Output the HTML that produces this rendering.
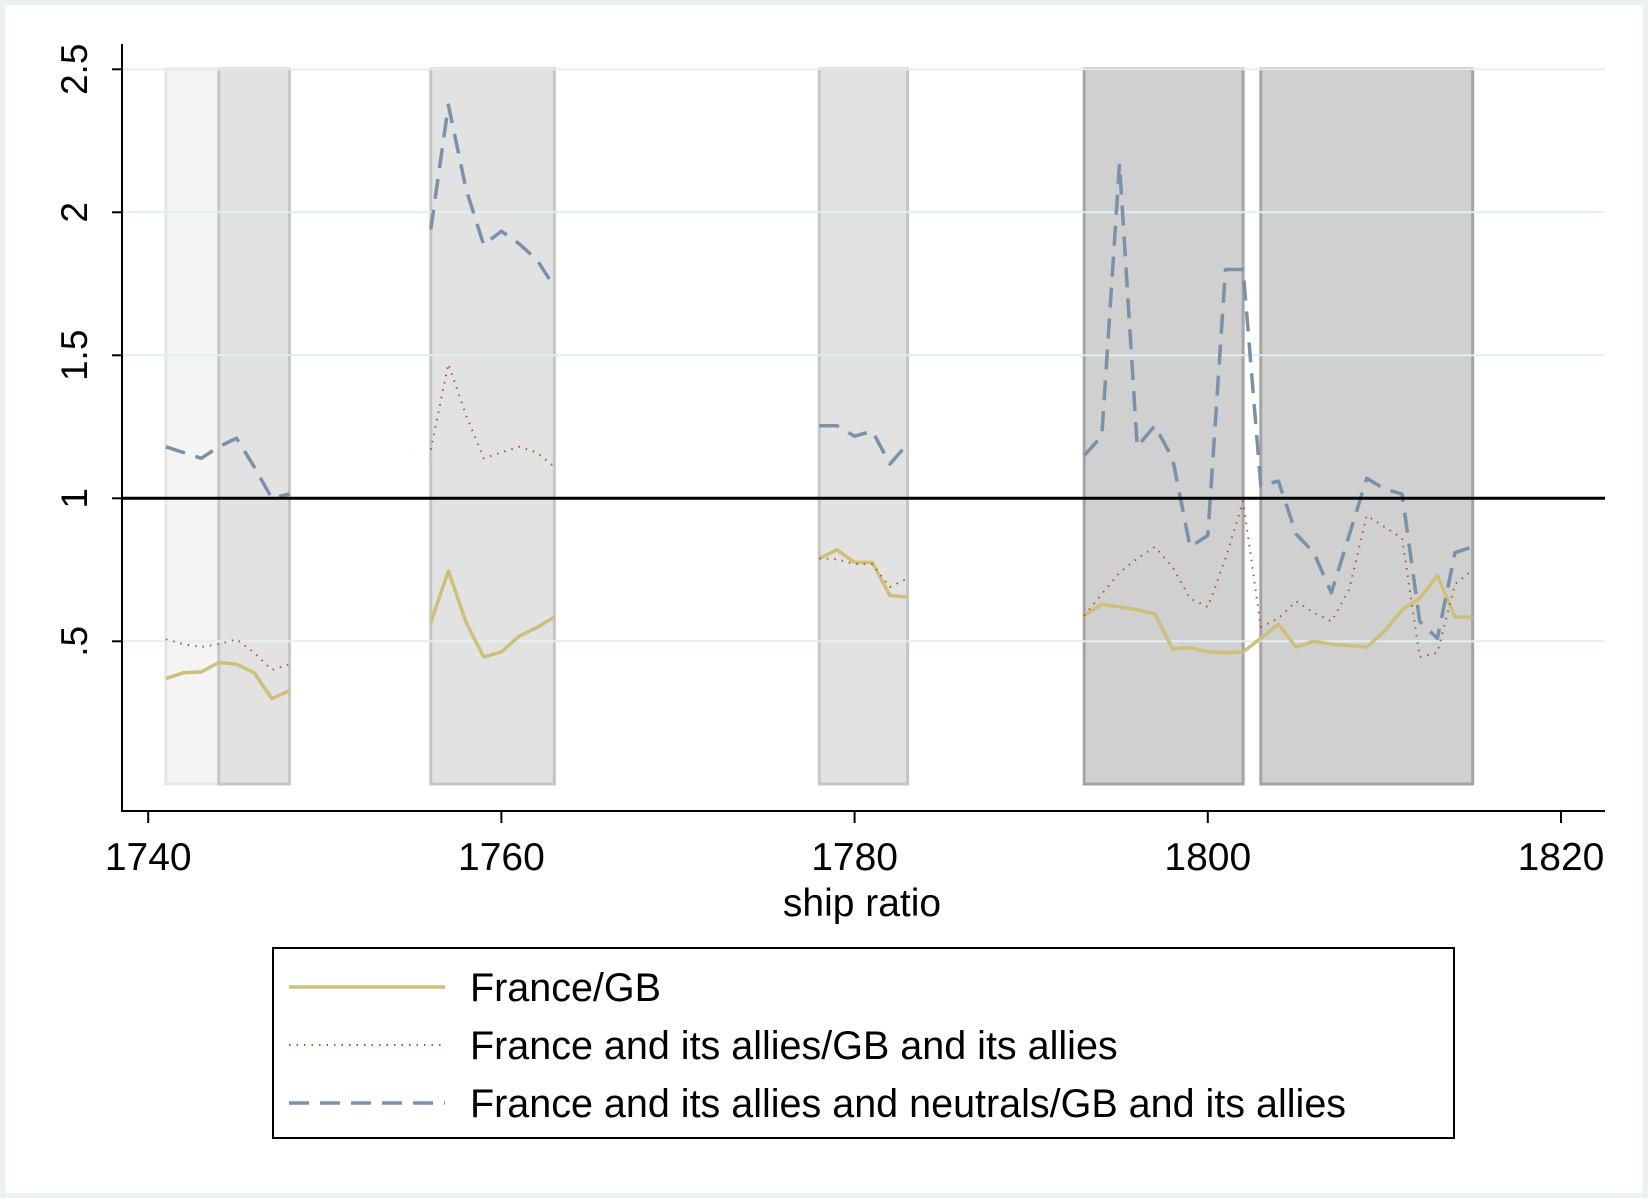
<!DOCTYPE html>
<html><head><meta charset="utf-8"><style>
html,body{margin:0;padding:0;background:#fff}
svg{display:block;font-family:"Liberation Sans",Arial,sans-serif}
</style></head><body>
<svg id="chart" width="1648" height="1198" viewBox="0 0 1648 1198">
<rect x="0" y="0" width="1648" height="1198" fill="#eaf2f3"/>
<rect x="5" y="5" width="1638" height="1188" fill="#ffffff"/>
<g id="bands"></g><g id="grid"></g><g id="series"></g><g id="axes"></g>
<g>
<rect x="273" y="948" width="1181" height="190" fill="#fff" stroke="#000" stroke-width="2"/>
<line x1="289" y1="987" x2="445" y2="987" stroke="#cdc079" stroke-width="3.5"/>
<text x="470" y="1001" font-size="39.5">France/GB</text>
<line x1="289" y1="1045" x2="445" y2="1045" stroke="#b5552e" stroke-width="2" stroke-dasharray="1.5 6"/>
<text x="470" y="1059" font-size="39.5">France and its allies/GB and its allies</text>
<line x1="289" y1="1103" x2="445" y2="1103" stroke="#7a91aa" stroke-width="3.5" stroke-dasharray="20 11"/>
<text x="470" y="1117" font-size="39.5">France and its allies and neutrals/GB and its allies</text>
</g>
</svg>
<script>
const bandStarts=[1741,1744,1756,1778,1793,1803];
const bandEnds=[1744,1748,1763,1783,1802,1815];
const bandFill=['#f4f4f4','#e2e2e2','#e2e2e2','#e2e2e2','#d0d0d0','#d0d0d0'];
const bandStroke=['#e6e6e6','#c6c6c6','#c6c6c6','#c6c6c6','#a4a4a4','#a4a4a4'];
const yTicks=[0.5,1,1.5,2,2.5];
const yTickLabels=['.5','1','1.5','2','2.5'];
const xTicks=[1740,1760,1780,1800,1820];
const segYears=[
[1741,1742,1743,1744,1745,1746,1747,1748],
[1756,1757,1758,1759,1760,1761,1762,1763],
[1778,1779,1780,1781,1782,1783],
[1793,1794,1795,1796,1797,1798,1799,1800,1801,1802,1803,1804,1805,1806,1807,1808,1809,1810,1811,1812,1813,1814,1815]];
const franceGB=[
[0.37,0.39,0.393,0.426,0.42,0.39,0.30,0.327],
[0.566,0.746,0.566,0.445,0.463,0.518,0.548,0.585],
[0.79,0.82,0.776,0.776,0.66,0.654],
[0.59,0.63,0.62,0.61,0.596,0.474,0.478,0.463,0.46,0.463,0.51,0.56,0.48,0.5,0.49,0.485,0.48,0.535,0.61,0.65,0.73,0.585,0.585]];
const allies=[
[0.507,0.49,0.48,0.49,0.507,0.46,0.40,0.42],
[1.17,1.47,1.29,1.14,1.16,1.18,1.16,1.11],
[0.79,0.787,0.77,0.77,0.69,0.72],
[0.59,0.665,0.74,0.79,0.83,0.76,0.65,0.62,0.79,0.99,0.55,0.58,0.64,0.60,0.57,0.68,0.94,0.90,0.86,0.445,0.46,0.70,0.75]];
const neutrals=[
[1.18,1.16,1.14,1.18,1.21,1.11,1.0,1.015],
[1.94,2.375,2.08,1.886,1.934,1.89,1.835,1.74],
[1.254,1.254,1.217,1.235,1.12,1.19],
[1.15,1.217,2.17,1.18,1.254,1.14,0.83,0.87,1.8,1.8,1.044,1.06,0.875,0.81,0.67,0.87,1.07,1.033,1.015,0.57,0.51,0.81,0.83]];

const NS='http://www.w3.org/2000/svg';
const X0=122,X1=1605,YAX=811;
function xs(yr){return 148.2+(yr-1740)*17.66;}
function ys(v){return 498.3-(v-1)*286;}
function mk(tag,attrs,parent){const e=document.createElementNS(NS,tag);for(const k in attrs)e.setAttribute(k,attrs[k]);parent.appendChild(e);return e;}
const gB=document.getElementById('bands'),gG=document.getElementById('grid'),gS=document.getElementById('series'),gA=document.getElementById('axes');
bandStarts.forEach((s,i)=>{
  const r=mk('rect',{x:xs(s),y:69,width:xs(bandEnds[i])-xs(s),height:715,fill:bandFill[i],stroke:bandStroke[i],'stroke-width':3},gB);
  
  
});
yTicks.forEach((v,i)=>{
  if(v!==1){const l=mk('line',{x1:X0,x2:X1,y1:ys(v),y2:ys(v),stroke:'#e4eef0','stroke-width':2},gG);
  
  }
  const t=mk('line',{x1:X0-10,x2:X0,y1:ys(v),y2:ys(v),stroke:'#000','stroke-width':2},gA);
  
  
  const tx=mk('text',{x:0,y:0,'font-size':37,'text-anchor':'middle',transform:`translate(87,${ys(v)}) rotate(-90)`},gA);
  tx.textContent=yTickLabels[i];
  
  
});
function drawSeries(data,color,w,dash,name){
  data.forEach((seg,si)=>{
    const pts=seg.map((v,j)=>xs(segYears[si][j]).toFixed(1)+','+ys(v).toFixed(1)).join(' ');
    const p=mk('polyline',{points:pts,fill:'none',stroke:color,'stroke-width':w,'stroke-linejoin':'round'},gS);
    if(dash)p.setAttribute('stroke-dasharray',dash);
    
    
  });
}
drawSeries(franceGB,'#cdc079',3.5,null,'series-france-gb');
drawSeries(allies,'#b5552e',2,'1.5 6','series-allies');
drawSeries(neutrals,'#7a91aa',3.5,'20 11','series-neutrals');
const ref=mk('line',{x1:X0,x2:X1,y1:ys(1),y2:ys(1),stroke:'#000','stroke-width':3},gA);


const ya=mk('line',{x1:X0,x2:X0,y1:44,y2:YAX+1,stroke:'#000','stroke-width':2},gA);


const xa=mk('line',{x1:X0,x2:X1,y1:YAX,y2:YAX,stroke:'#000','stroke-width':2},gA);


xTicks.forEach(yr=>{
  const t=mk('line',{x1:xs(yr),x2:xs(yr),y1:YAX,y2:YAX+12,stroke:'#000','stroke-width':2},gA);
  
  
  const tx=mk('text',{x:xs(yr),y:870,'font-size':39,'text-anchor':'middle'},gA);
  tx.textContent=yr;
  
  
});
const title=mk('text',{x:862,y:916,'font-size':39,'text-anchor':'middle'},gA);
title.textContent='ship ratio';


</script>
</body></html>
